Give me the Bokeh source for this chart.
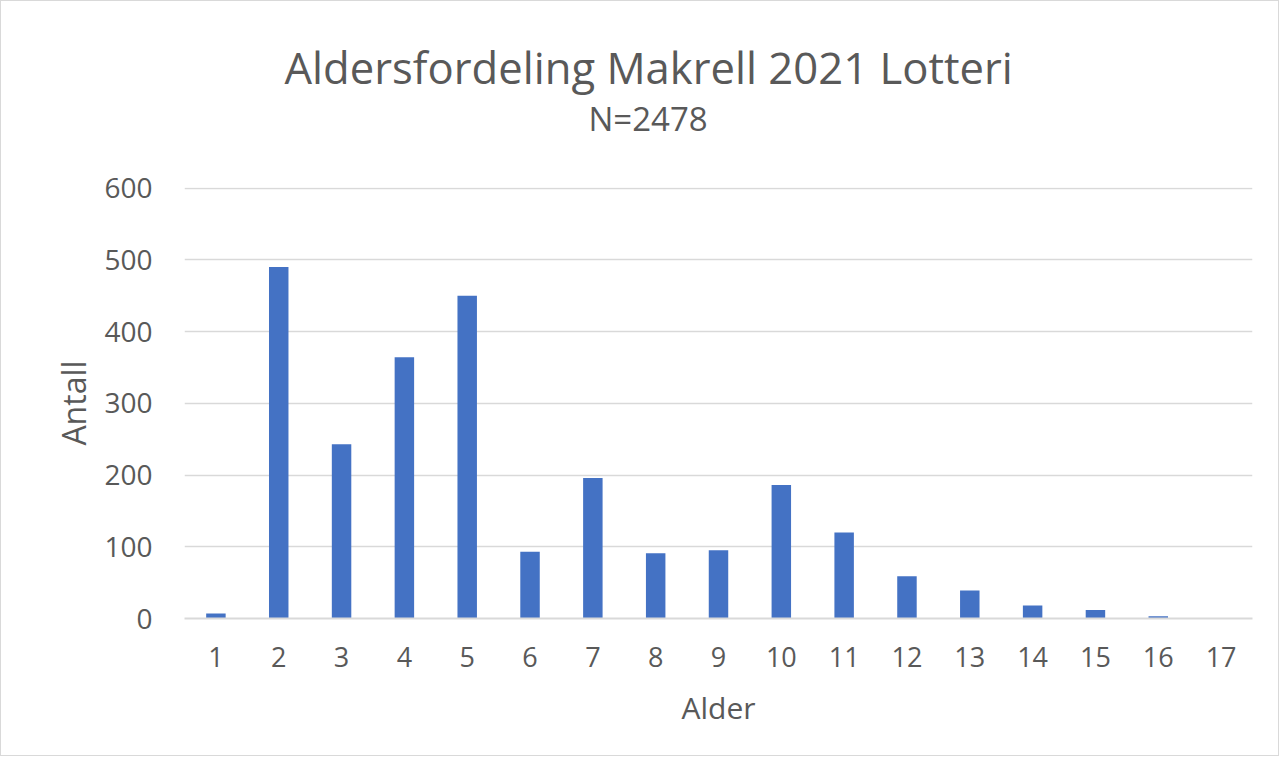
from bokeh.plotting import figure
from bokeh.models import ColumnDataSource, FixedTicker, Title, Range1d
from bokeh.embed import file_html
from bokeh.resources import INLINE

ages = [1, 2, 3, 4, 5, 6, 7, 8, 9, 10, 11, 12, 13, 14, 15, 16, 17]
counts = [7, 490, 243, 364, 450, 93, 196, 91, 95, 186, 120, 59, 39, 18, 12, 3, 0]
y_ticks = [0, 100, 200, 300, 400, 500, 600]
title_text = "Aldersfordeling Makrell 2021 Lotteri"
subtitle_text = "N=2478"
x_label = "Alder"
y_label = "Antall"

FONT = "Open Sans"
GREY = "#595959"

src = ColumnDataSource(dict(age=ages, count=counts))

p = figure(width=1279, height=756, output_backend="svg", toolbar_location=None,
           x_range=Range1d(0.5, 17.5), y_range=Range1d(0, 600.8),
           min_border_left=183, min_border_top=186, min_border_right=28,
           min_border_bottom=139)
p.vbar(x="age", top="count", width=0.31, source=src, color="#4472C4", line_color=None)

p.outline_line_color = None
p.styles = {"border": "1.5px solid #d9d9d9"}
p.xgrid.grid_line_color = None
p.ygrid.grid_line_color = "#d9d9d9"
p.ygrid.grid_line_width = 1.5
p.ygrid.ticker = FixedTicker(ticks=y_ticks)

p.xaxis.ticker = FixedTicker(ticks=ages)
p.yaxis.ticker = FixedTicker(ticks=y_ticks)
for ax in (p.xaxis[0], p.yaxis[0]):
    ax.major_tick_line_color = None
    ax.minor_tick_line_color = None
    ax.major_label_text_font = FONT
    ax.major_label_text_color = GREY
    ax.axis_label_text_font = FONT
    ax.axis_label_text_color = GREY
    ax.axis_label_text_font_style = "normal"
p.xaxis.major_label_text_font_size = "27px"
p.yaxis.major_label_text_font_size = "28px"
p.xaxis.axis_label_text_font_size = "30px"
p.yaxis.axis_label_text_font_size = "32px"
p.yaxis.axis_line_color = None
p.xaxis.axis_line_color = "#d9d9d9"
p.xaxis.axis_line_width = 2
p.yaxis.major_label_standoff = 26
p.xaxis.major_label_standoff = 22
p.xaxis.axis_label = x_label
p.yaxis.axis_label = y_label
p.xaxis.axis_label_standoff = 17
p.yaxis.axis_label_standoff = 6

p.add_layout(Title(text=subtitle_text, align="left", offset=404, standoff=93,
                   text_font=FONT, text_font_size="33px", text_color=GREY,
                   text_font_style="normal"), "above")
p.add_layout(Title(text=title_text, align="left", offset=100, standoff=-98,
                   text_font=FONT, text_font_size="43.6px", text_color=GREY,
                   text_font_style="normal"), "above")

open("out.html", "w").write(file_html(p, INLINE))
